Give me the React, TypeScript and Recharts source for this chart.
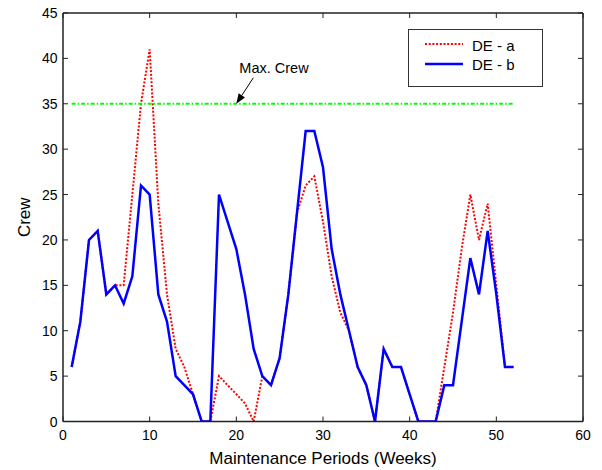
import React from 'react';
import { LineChart, Line, XAxis, YAxis, ReferenceLine, ReferenceDot, Legend } from 'recharts';

const weeks = [1, 2, 3, 4, 5, 6, 7, 8, 9, 10, 11, 12, 13, 14, 15, 16, 17, 18, 19, 20, 21, 22, 23, 24, 25, 26, 27, 28, 29, 30, 31, 32, 33, 34, 35, 36, 37, 38, 39, 40, 41, 42, 43, 44, 45, 46, 47, 48, 49, 50, 51, 52];
const deA = [6, 11, 20, 21, 14, 15, 15, 25, 35, 41, 24, 14, 8, 6, 3, 0, 0, 5, 4, 3, 2, 0, 5, 4, 7, 14, 23, 26, 27, 22, 16, 12, 10, 6, 4, 0, 8, 6, 6, 3, 0, 0, 0, 6, 12, 19, 25, 20, 24, 15, 6, 6];
const deB = [6, 11, 20, 21, 14, 15, 13, 16, 26, 25, 14, 11, 5, 4, 3, 0, 0, 25, 22, 19, 14, 8, 5, 4, 7, 14, 23, 32, 32, 28, 19, 14, 10, 6, 4, 0, 8, 6, 6, 3, 0, 0, 0, 4, 4, 11, 18, 14, 21, 14, 6, 6];
const maxCrew = 35;
const maxCrewFrom = 1;
const maxCrewTo = 52;
const annotationWeek = 20;
const xTicks = [0, 10, 20, 30, 40, 50, 60];
const yTicks = [0, 5, 10, 15, 20, 25, 30, 35, 40, 45];
const seriesNames = ['DE - a', 'DE - b'];

const data = weeks.map((w, i) => ({ week: w, a: deA[i], b: deB[i] }));

const FONT = '"Liberation Sans", Arial, Helvetica, sans-serif';
const AXIS = '#222222';
const RED_DASH = '2 1.7';
const GREEN_DASH = '4 2 1.5 2';

const BottomTick = (props: any) => {
  const { x, y, payload } = props;
  return (
    <g>
      <line x1={x} y1={y} x2={x} y2={y - 5} stroke={AXIS} strokeWidth={1} />
      <text x={x} y={y + 18.5} textAnchor="middle" fontSize={14} fontFamily={FONT} fill="#000">{payload.value}</text>
    </g>
  );
};
const TopTick = (props: any) => {
  const { x, y } = props;
  return <line x1={x} y1={y} x2={x} y2={y + 5} stroke={AXIS} strokeWidth={1} />;
};
const LeftTick = (props: any) => {
  const { x, y, payload } = props;
  return (
    <g>
      <line x1={x} y1={y} x2={x + 5} y2={y} stroke={AXIS} strokeWidth={1} />
      <text x={x - 5.5} y={y + 5} textAnchor="end" fontSize={14} fontFamily={FONT} fill="#000">{payload.value}</text>
    </g>
  );
};
const RightTick = (props: any) => {
  const { x, y } = props;
  return <line x1={x} y1={y} x2={x - 5} y2={y} stroke={AXIS} strokeWidth={1} />;
};

const XLabel = (props: any) => {
  const vb = props.viewBox || {};
  return (
    <text x={vb.x + vb.width / 2} y={vb.y + 42} textAnchor="middle" fontSize={17} fontFamily={FONT} fill="#000">
      Maintenance Periods (Weeks)
    </text>
  );
};
const YLabel = (props: any) => {
  const vb = props.viewBox || {};
  const cx = vb.x - 32;
  const cy = vb.y + vb.height / 2;
  return (
    <text x={cx} y={cy} transform={`rotate(-90 ${cx} ${cy})`} textAnchor="middle" fontSize={17} fontFamily={FONT} fill="#000">
      Crew
    </text>
  );
};

const Annotation = (props: any) => {
  const { cx, cy } = props;
  const tx = cx + 17;
  const ty = cy - 26;
  const dx = cx - tx;
  const dy = cy - ty;
  const len = Math.sqrt(dx * dx + dy * dy);
  const ux = dx / len;
  const uy = dy / len;
  const hl = 10;
  const hw = 3.8;
  const bx = cx - ux * hl;
  const by = cy - uy * hl;
  const p1 = `${bx - uy * hw},${by + ux * hw}`;
  const p2 = `${bx + uy * hw},${by - ux * hw}`;
  return (
    <g>
      <line x1={tx} y1={ty} x2={bx} y2={by} stroke="#000" strokeWidth={1} />
      <polygon points={`${cx},${cy} ${p1} ${p2}`} fill="#000" />
      <text x={cx + 3} y={cy - 31} fontSize={14.5} fontFamily={FONT} fill="#000">Max. Crew</text>
    </g>
  );
};

const LegendBox = () => (
  <svg width={135} height={58} style={{ display: 'block' }}>
    <rect x={0.5} y={0.5} width={134} height={57} fill="#fff" stroke="#333" strokeWidth={1} />
    <line x1={17} x2={55} y1={15} y2={15} stroke="#ff0000" strokeWidth={2} strokeDasharray={RED_DASH} />
    <text x={64} y={21.5} fontSize={15} fontFamily={FONT} fill="#000">{seriesNames[0]}</text>
    <line x1={17} x2={55} y1={35} y2={35} stroke="#0000ff" strokeWidth={2.5} />
    <text x={64} y={41} fontSize={15} fontFamily={FONT} fill="#000">{seriesNames[1]}</text>
  </svg>
);

export default function App() {
  return (
    <div style={{ width: 602, height: 470, background: '#fff' }}>
      <style>{'body{margin:0;background:#fff}'}</style>
      <LineChart width={602} height={470} data={data} margin={{ top: 12, right: 18, bottom: 47.5, left: 62 }}>
        <XAxis
          xAxisId="b"
          dataKey="week"
          type="number"
          domain={[0, 60]}
          ticks={xTicks}
          interval={0}
          height={1}
          tickSize={0}
          tickMargin={0}
          tickLine={false}
          tick={BottomTick}
          axisLine={{ stroke: AXIS, strokeWidth: 1.5 }}
          allowDataOverflow
          label={XLabel}
        />
        <XAxis
          xAxisId="t"
          orientation="top"
          dataKey="week"
          type="number"
          domain={[0, 60]}
          ticks={xTicks}
          interval={0}
          height={1}
          tickSize={0}
          tickMargin={0}
          tickLine={false}
          tick={TopTick}
          axisLine={{ stroke: AXIS, strokeWidth: 1.5 }}
          allowDataOverflow
        />
        <YAxis
          yAxisId="l"
          type="number"
          domain={[0, 45]}
          ticks={yTicks}
          interval={0}
          width={1}
          tickSize={0}
          tickMargin={0}
          tickLine={false}
          tick={LeftTick}
          axisLine={{ stroke: AXIS, strokeWidth: 1.5 }}
          allowDataOverflow
          label={YLabel}
        />
        <YAxis
          yAxisId="r"
          orientation="right"
          type="number"
          domain={[0, 45]}
          ticks={yTicks}
          interval={0}
          width={1}
          tickSize={0}
          tickMargin={0}
          tickLine={false}
          tick={RightTick}
          axisLine={{ stroke: AXIS, strokeWidth: 1.5 }}
          allowDataOverflow
        />
        <Legend
          layout="vertical"
          align="center"
          verticalAlign="middle"
          content={LegendBox}
          wrapperStyle={{ position: 'absolute', left: 408, top: 29, width: 135, height: 58, right: 'auto', bottom: 'auto', margin: 0 }}
        />
        <Line
          xAxisId="b"
          yAxisId="l"
          dataKey="a"
          name={seriesNames[0]}
          stroke="#ff0000"
          strokeWidth={2}
          strokeDasharray={RED_DASH}
          dot={false}
          activeDot={false}
          isAnimationActive={false}
          type="linear"
        />
        <Line
          xAxisId="b"
          yAxisId="l"
          dataKey="b"
          name={seriesNames[1]}
          stroke="#0000ff"
          strokeWidth={2.5}
          dot={false}
          activeDot={false}
          isAnimationActive={false}
          type="linear"
        />
        <ReferenceLine
          xAxisId="b"
          yAxisId="l"
          segment={[{ x: maxCrewFrom, y: maxCrew }, { x: maxCrewTo, y: maxCrew }]}
          stroke="#00ff00"
          strokeWidth={2}
          strokeDasharray={GREEN_DASH}
        />
        <ReferenceDot
          xAxisId="b"
          yAxisId="l"
          x={annotationWeek}
          y={maxCrew}
          r={0}
          shape={Annotation}
        />
      </LineChart>
    </div>
  );
}
